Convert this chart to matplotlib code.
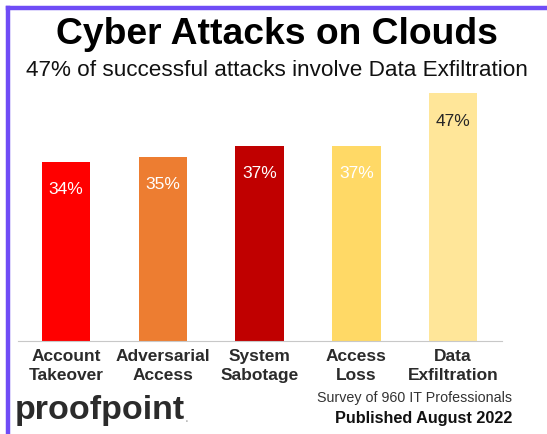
import matplotlib.pyplot as plt
from matplotlib.lines import Line2D

plt.rcParams['font.family'] = ['Liberation Sans', 'DejaVu Sans']

categories = ["Account\nTakeover", "Adversarial\nAccess", "System\nSabotage",
              "Access\nLoss", "Data\nExfiltration"]
values = [34, 35, 37, 37, 47]
colors = ["#ff0000", "#ed7d31", "#c00000", "#ffd966", "#ffe699"]
label_colors = ["white", "white", "white", "white", "#262626"]

W, H = 547, 434
fig = plt.figure(figsize=(W / 100, H / 100), dpi=100)


def fx(px):
    return px / W


def fy(py):
    return 1 - py / H


# purple frame on top and left
fig.add_artist(Line2D([fx(8), fx(547)], [fy(8), fy(8)], color="#6f4cf6", lw=3.2))
fig.add_artist(Line2D([fx(8), fx(8)], [fy(8), fy(434)], color="#6f4cf6", lw=3.2))

# bars
ax = fig.add_axes([fx(17.5), fy(341), fx(484), (341 - 77.5) / H])
x = range(len(values))
ax.bar(x, values, width=0.5, color=colors)
ax.set_xlim(-0.5, 4.5)
ax.set_ylim(0, 50)
for i, v in enumerate(values):
    ax.annotate(f"{v}%", (i, v), xytext=(0, -20), textcoords="offset points",
                ha="center", va="center", fontsize=12.5, color=label_colors[i])

for s in ["top", "left", "right"]:
    ax.spines[s].set_visible(False)
ax.spines["bottom"].set_color("#c8c8c8")
ax.set_yticks([])
ax.set_xticks(list(x))
ax.set_xticklabels(categories, fontsize=12.5, fontweight="bold", color="#2b2b2b",
                   linespacing=1.3)
ax.tick_params(axis="x", length=0, pad=6)

# titles
fig.text(fx(277), fy(35), "Cyber Attacks on Clouds", ha="center", va="center",
         fontsize=26.8, fontweight="bold", color="black")
fig.text(fx(277), fy(71), "47% of successful attacks involve Data Exfiltration",
         ha="center", va="center", fontsize=16.2, color="#111111")

# footer
fig.text(fx(15), fy(410), "proofpoint", ha="left", va="center",
         fontsize=24.5, fontweight="bold", color="#2b2b2b")
fig.text(fx(185), fy(418), ".", ha="left", va="center", fontsize=10, color="#aaaaaa")
fig.text(fx(512), fy(398), "Survey of 960 IT Professionals", ha="right", va="center",
         fontsize=10.3, color="#333333")
fig.text(fx(512), fy(418), "Published August 2022", ha="right", va="center",
         fontsize=11.7, fontweight="bold", color="#111111")

fig.savefig("out.png", dpi=100)
